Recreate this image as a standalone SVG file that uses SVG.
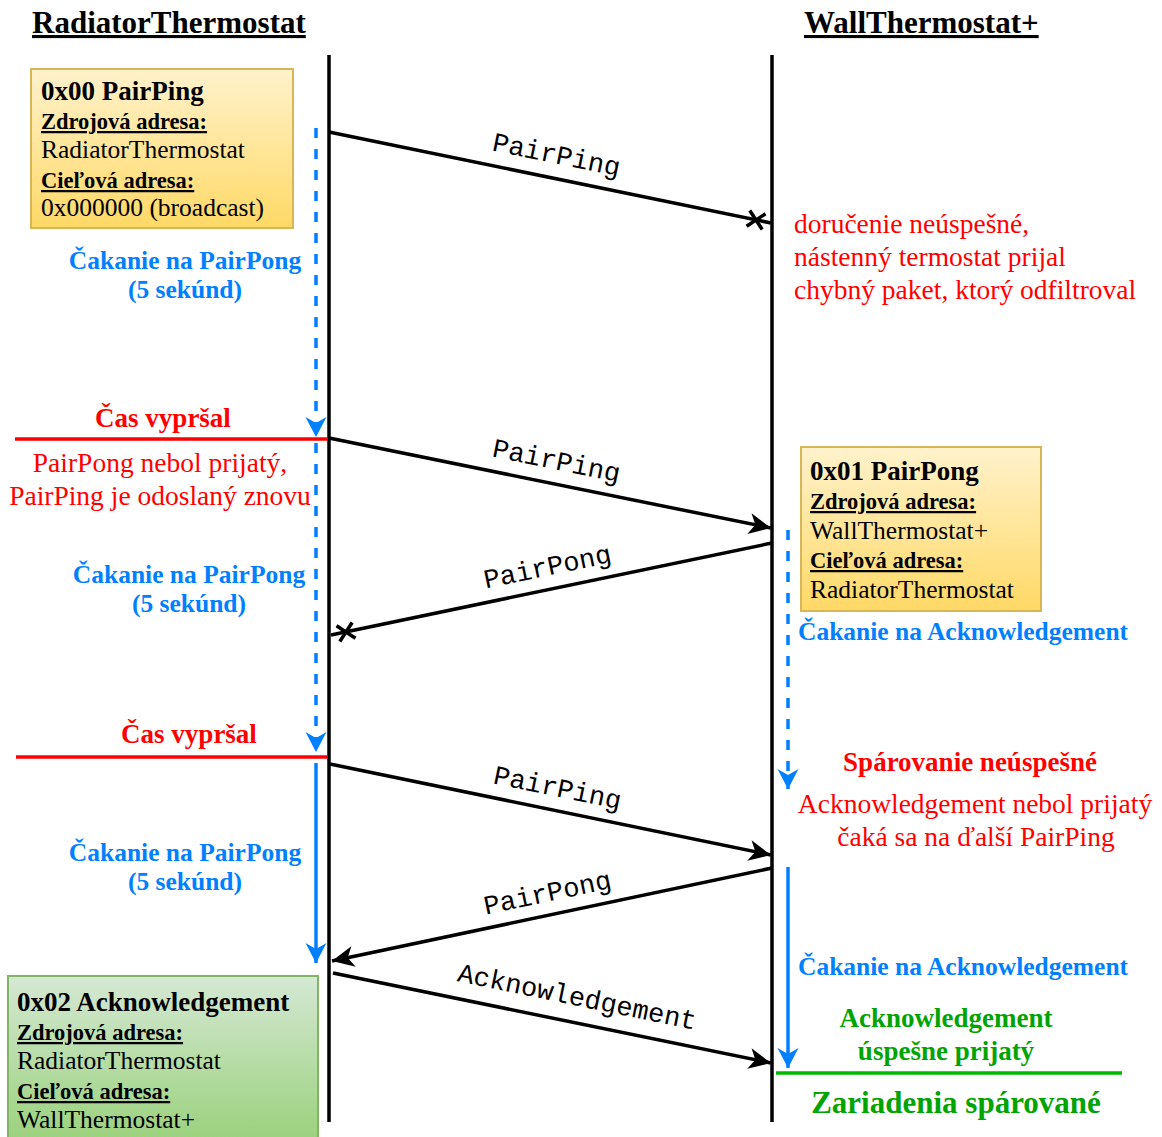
<svg xmlns="http://www.w3.org/2000/svg" width="1162" height="1137" viewBox="0 0 1162 1137">
<defs>
<linearGradient id="gy" x1="0" y1="0" x2="0" y2="1"><stop offset="0" stop-color="#fff2cc"/><stop offset="1" stop-color="#ffd966"/></linearGradient>
<linearGradient id="gg" x1="0" y1="0" x2="0" y2="1"><stop offset="0" stop-color="#d5e8d4"/><stop offset="1" stop-color="#97d077"/></linearGradient>
<marker id="ab" markerUnits="userSpaceOnUse" markerWidth="26" markerHeight="26" viewBox="-24 -12 26 24" refX="0" refY="0" orient="auto" overflow="visible"><path d="M0,0 L-22,-10.5 L-16,0 L-22,10.5 Z" fill="#000"/></marker>
<marker id="au" markerUnits="userSpaceOnUse" markerWidth="26" markerHeight="26" viewBox="-24 -12 26 24" refX="0" refY="0" orient="auto" overflow="visible"><path d="M0,0 L-20,-10.5 L-14,0 L-20,10.5 Z" fill="#007fff"/></marker>
<style>
text{font-family:"Liberation Serif","Times New Roman",serif;}
.hdr{font-size:31px;font-weight:bold;text-decoration:underline;fill:#000;}
.bt{font-size:27px;font-weight:bold;fill:#000;}
.bl{font-size:22.5px;font-weight:bold;text-decoration:underline;fill:#000;}
.bv{font-size:25.5px;fill:#000;}
.red{font-size:27.5px;fill:#ff0000;}
.redb{font-size:27px;font-weight:bold;fill:#ff0000;}
.blue{font-size:25.5px;font-weight:bold;fill:#007fff;}
.green{font-size:27px;font-weight:bold;fill:#00a400;}
.mono{font-family:"Liberation Mono","Courier New",monospace;font-size:27px;fill:#000;text-anchor:middle;}
.mid{text-anchor:middle;}
.life{stroke:#000;stroke-width:3.5;fill:none;}
.msg{stroke:#000;stroke-width:3.5;fill:none;}
.xm{stroke:#000;stroke-width:3.5;fill:none;}
.wd{stroke:#007fff;stroke-width:3.5;stroke-dasharray:10 11;fill:none;}
.ws{stroke:#007fff;stroke-width:3.5;fill:none;}
</style>
</defs>
<rect width="1162" height="1137" fill="#fff"/>

<g id="hdr-radiator"><text class="hdr" x="32" y="33">RadiatorThermostat</text></g>
<g id="hdr-wall"><text class="hdr" x="804" y="33">WallThermostat+</text></g>

<g id="lifelines">
<line class="life" x1="329" y1="55" x2="329" y2="1122"/>
<line class="life" x1="772" y1="55" x2="772" y2="1122"/>
</g>

<g id="box-pairping">
<rect x="31" y="69" width="262" height="159" fill="url(#gy)" stroke="#d6b656" stroke-width="2"/>
<text class="bt" x="41" y="100">0x00 PairPing</text>
<text class="bl" x="41" y="129">Zdrojová adresa:</text>
<text class="bv" x="41" y="158">RadiatorThermostat</text>
<text class="bl" x="41" y="188">Cieľová adresa:</text>
<text class="bv" x="41" y="216">0x000000 (broadcast)</text>
</g>

<g id="box-pairpong">
<rect x="801" y="447" width="240" height="164" fill="url(#gy)" stroke="#d6b656" stroke-width="2"/>
<text class="bt" x="810" y="480">0x01 PairPong</text>
<text class="bl" x="810" y="509">Zdrojová adresa:</text>
<text class="bv" x="810" y="539">WallThermostat+</text>
<text class="bl" x="810" y="568">Cieľová adresa:</text>
<text class="bv" x="810" y="598">RadiatorThermostat</text>
</g>

<g id="box-ack">
<rect x="8" y="976" width="310" height="175" fill="url(#gg)" stroke="#82b366" stroke-width="2"/>
<text class="bt" x="17" y="1011">0x02 Acknowledgement</text>
<text class="bl" x="17" y="1040">Zdrojová adresa:</text>
<text class="bv" x="17" y="1069">RadiatorThermostat</text>
<text class="bl" x="17" y="1099">Cieľová adresa:</text>
<text class="bv" x="17" y="1128">WallThermostat+</text>
</g>

<g id="notes">
<text class="red" x="794" y="233">doručenie neúspešné,</text>
<text class="red" x="794" y="266">nástenný termostat prijal</text>
<text class="red" x="794" y="299">chybný paket, ktorý odfiltroval</text>

<text class="blue mid" x="185" y="269">Čakanie na PairPong</text>
<text class="blue mid" x="185" y="298">(5 sekúnd)</text>

<text class="redb mid" x="163" y="427">Čas vypršal</text>
<text class="red mid" x="160" y="472">PairPong nebol prijatý,</text>
<text class="red mid" x="160" y="505">PairPing je odoslaný znovu</text>

<text class="blue mid" x="189" y="583">Čakanie na PairPong</text>
<text class="blue mid" x="189" y="612">(5 sekúnd)</text>

<text class="redb mid" x="189" y="743">Čas vypršal</text>

<text class="blue mid" x="185" y="861">Čakanie na PairPong</text>
<text class="blue mid" x="185" y="890">(5 sekúnd)</text>

<text class="blue" x="798" y="640">Čakanie na Acknowledgement</text>
<text class="redb mid" x="970" y="771">Spárovanie neúspešné</text>
<text class="red mid" x="975" y="813">Acknowledgement nebol prijatý</text>
<text class="red mid" x="976" y="846">čaká sa na ďalší PairPing</text>

<text class="blue" x="798" y="975">Čakanie na Acknowledgement</text>
<text class="green mid" x="946" y="1027">Acknowledgement</text>
<text class="green mid" x="946" y="1060">úspešne prijatý</text>
<text class="green mid" x="956" y="1113" style="font-size:31px">Zariadenia spárované</text>
</g>

<g id="connectors">
<line x1="15" y1="439" x2="327" y2="439" stroke="#ff0000" stroke-width="3.5"/>
<line x1="16" y1="757" x2="327" y2="757" stroke="#ff0000" stroke-width="3.5"/>
<line x1="776" y1="1073" x2="1122" y2="1073" stroke="#00b800" stroke-width="3.5"/>

<line class="wd" x1="316" y1="128" x2="316" y2="437" marker-end="url(#au)"/>
<line class="wd" x1="316" y1="443" x2="316" y2="752" marker-end="url(#au)"/>
<line class="ws" x1="316" y1="763" x2="316" y2="963" marker-end="url(#au)"/>
<line class="wd" x1="788" y1="530" x2="788" y2="789" marker-end="url(#au)"/>
<line class="ws" x1="788" y1="867" x2="788" y2="1068" marker-end="url(#au)"/>

<line class="msg" x1="329" y1="132" x2="771" y2="223"/>
<path class="xm" d="M-8,-8 L8,8 M-8,8 L8,-8" transform="translate(756,220) rotate(11.6)"/>
<g transform="translate(552,177) rotate(11.6)"><text class="mono" x="0" y="-14">PairPing</text></g>

<line class="msg" x1="329" y1="438" x2="771" y2="528" marker-end="url(#ab)"/>
<g transform="translate(552,483) rotate(11.5)"><text class="mono" x="0" y="-14">PairPing</text></g>

<line class="msg" x1="772" y1="543" x2="331" y2="635"/>
<path class="xm" d="M-8,-8 L8,8 M-8,8 L8,-8" transform="translate(346,632) rotate(-11.8)"/>
<g transform="translate(552,589) rotate(-11.8)"><text class="mono" x="0" y="-14">PairPong</text></g>

<line class="msg" x1="330" y1="764" x2="771" y2="855" marker-end="url(#ab)"/>
<g transform="translate(553,810) rotate(11.7)"><text class="mono" x="0" y="-14">PairPing</text></g>

<line class="msg" x1="772" y1="868" x2="332" y2="961" marker-end="url(#ab)"/>
<g transform="translate(552,915) rotate(-11.9)"><text class="mono" x="0" y="-14">PairPong</text></g>

<line class="msg" x1="333" y1="973" x2="771" y2="1063" marker-end="url(#ab)"/>
<g transform="translate(572,1022) rotate(11.6)"><text class="mono" x="0" y="-17">Acknowledgement</text></g>
</g>
</svg>
